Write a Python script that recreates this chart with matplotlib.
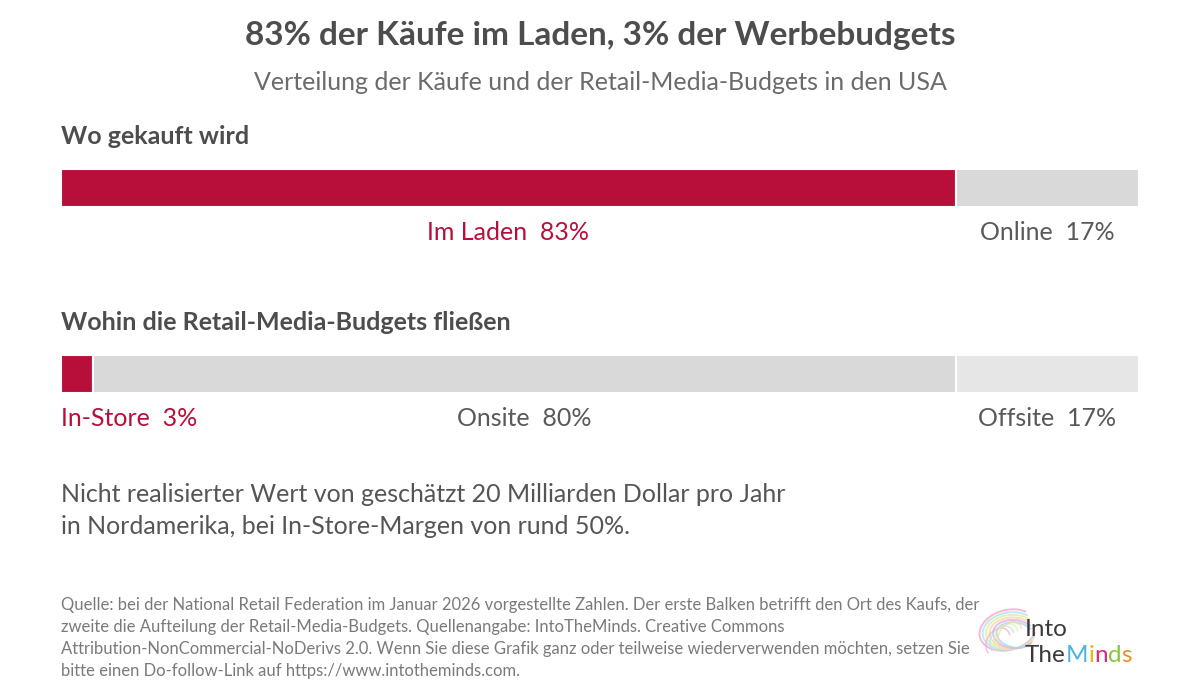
import matplotlib
matplotlib.use("Agg")
import matplotlib.pyplot as plt
from matplotlib.patches import Arc

plt.rcParams['font.family'] = ['Lato', 'DejaVu Sans']

# ---- data ----
title = "83% der Käufe im Laden, 3% der Werbebudgets"
subtitle = "Verteilung der Käufe und der Retail-Media-Budgets in den USA"

bar1_title = "Wo gekauft wird"
bar1_labels = ["Im Laden", "Online"]
bar1_values = [83, 17]

bar2_title = "Wohin die Retail-Media-Budgets fließen"
bar2_labels = ["In-Store", "Onsite", "Offsite"]
bar2_values = [3, 80, 17]

note_lines = ["Nicht realisierter Wert von geschätzt 20 Milliarden Dollar pro Jahr",
              "in Nordamerika, bei In-Store-Margen von rund 50%."]

source_lines = [
    "Quelle: bei der National Retail Federation im Januar 2026 vorgestellte Zahlen. Der erste Balken betrifft den Ort des Kaufs, der",
    "zweite die Aufteilung der Retail-Media-Budgets. Quellenangabe: IntoTheMinds. Creative Commons",
    "Attribution-NonCommercial-NoDerivs 2.0. Wenn Sie diese Grafik ganz oder teilweise wiederverwenden möchten, setzen Sie",
    "bitte einen Do-follow-Link auf https://www.intotheminds.com.",
]

RED = "#B80F3A"
GREY = "#D9D9D9"
LIGHT = "#E6E6E6"
TXT = "#595959"

bar1_colors = [RED, GREY]
bar2_colors = [RED, GREY, LIGHT]
bar1_tcolors = [RED, TXT]
bar2_tcolors = [RED, TXT, TXT]
bar2_align = ["left", "center", "center"]

W, H = 1200, 700
fig = plt.figure(figsize=(12, 7), dpi=100)
fig.patch.set_facecolor("white")


def fy(py):
    return 1 - py / H


def fx(px):
    return px / W


fig.text(0.5, fy(35), title, ha="center", va="center", fontsize=24,
         fontweight="bold", color="#4d4d4d")
fig.text(0.5, fy(83), subtitle, ha="center", va="center", fontsize=18,
         color="#6b6b6b")


def draw_bar(top_px, bottom_px, heading, heading_y, labels, values, colors,
             tcolors, aligns):
    fig.text(fx(61), fy(heading_y), heading, ha="left", va="center",
             fontsize=18, fontweight="bold", color="#4d4d4d")
    ax = fig.add_axes([fx(61), fy(bottom_px), fx(1139 - 61),
                       (bottom_px - top_px) / H])
    ax.set_xlim(0, sum(values))
    ax.set_ylim(-0.5, 0.5)
    ax.axis("off")
    left = 0
    for lab, v, c, tc, al in zip(labels, values, colors, tcolors, aligns):
        ax.barh(0, v, left=left, height=1, color=c, edgecolor="white",
                linewidth=1.5)
        x = left if al == "left" else left + v / 2
        ax.text(x, -1.18, f"{lab}  {v}%", ha=al, va="center", fontsize=18,
                color=tc, clip_on=False)
        left += v
    return ax


draw_bar(169, 207, bar1_title, 137, bar1_labels, bar1_values, bar1_colors,
         bar1_tcolors, ["center", "center"])
draw_bar(355, 393, bar2_title, 323, bar2_labels, bar2_values, bar2_colors,
         bar2_tcolors, bar2_align)

for i, line in enumerate(note_lines):
    fig.text(fx(61), fy(494 + 32 * i), line, ha="left", va="center",
             fontsize=18, color="#555555")

for i, line in enumerate(source_lines):
    fig.text(fx(61), fy(605 + 22 * i), line, ha="left", va="center",
             fontsize=12, color="#7a7a7a")

# ---- logo ----
lax = fig.add_axes([fx(970), fy(690), fx(190), 90 / H])
lax.set_xlim(970, 1160)
lax.set_ylim(690, 600)
lax.axis("off")
brain_cols = ["#f7a8c8", "#b5e0f5", "#d9f0a3", "#f9d7a0", "#e0b0e8", "#a8d8f0"]
for k, c in enumerate(brain_cols):
    lax.add_patch(Arc((1008 + k * 1.5, 630 + k), 58 - k * 4, 40 - k * 3,
                      angle=-15 + k * 5, theta1=20, theta2=330, color=c,
                      lw=1.4, alpha=0.8))
for k, c in enumerate(brain_cols[:4]):
    lax.add_patch(Arc((998 + k * 4, 642 - k * 2), 22, 30, angle=30,
                      theta1=100, theta2=300, color=c, lw=1.1, alpha=0.7))

lax.text(1025, 629, "Into", ha="left", va="center", fontsize=17.5,
         color="#3a3a3a")
renderer = fig.canvas.get_renderer()
x0 = 1025
parts = [("The", "#3a3a3a"), ("M", "#4ab3e2"), ("i", "#f2b705"),
         ("n", "#e0267a"), ("d", "#8cc43f"), ("s", "#f08a24")]
inv = lax.transData.inverted()
for s, c in parts:
    t = lax.text(x0, 655, s, ha="left", va="center", fontsize=17.5, color=c)
    bb = t.get_window_extent(renderer=renderer)
    x0 = inv.transform((bb.x1, bb.y0))[0]

fig.savefig("out.png", dpi=100, facecolor="white")
